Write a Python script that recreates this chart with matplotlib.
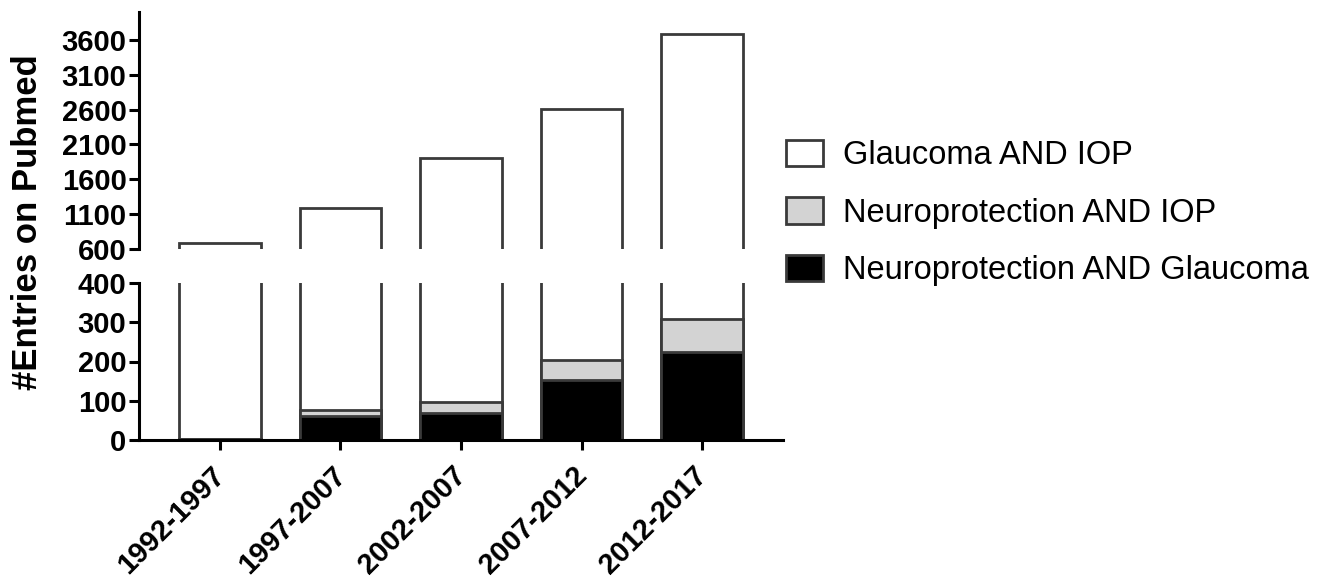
import matplotlib
matplotlib.use("Agg")
import matplotlib.pyplot as plt
import matplotlib.transforms as mtransforms
from matplotlib.patches import Patch
import numpy as np

categories = ['1992-1997', '1997-2007', '2002-2007', '2007-2012', '2012-2017']
glaucoma_iop = [680, 1190, 1905, 2610, 3685]
neuro_iop = [3, 76, 96, 205, 308]
neuro_glaucoma = [2, 60, 70, 153, 223]

series_names = ['Glaucoma AND IOP', 'Neuroprotection AND IOP', 'Neuroprotection AND Glaucoma']
series_colors = ['#ffffff', '#d3d3d3', '#000000']
edge = '#3a3a3a'

plt.rcParams['font.family'] = ['Liberation Sans', 'DejaVu Sans']

W, H = 1343, 584
fig = plt.figure(figsize=(W / 100, H / 100), dpi=100)

def fx(px):
    return px / W

def fy(py):
    return 1 - py / H

left = fx(139)
width = fx(783) - left
ax_top = fig.add_axes([left, fy(249), width, fy(12) - fy(249)])
ax_bot = fig.add_axes([left, fy(440), width, fy(283) - fy(440)])

x = np.arange(len(categories))
bw = 0.68
TICK_FS = 21
for ax in (ax_top, ax_bot):
    for vals, col in zip([glaucoma_iop, neuro_iop, neuro_glaucoma], series_colors):
        ax.bar(x, vals, width=bw, color=col, edgecolor=edge, linewidth=2.0, zorder=2)
    ax.set_xlim(-0.672, 4.672)
    for s in ('top', 'right'):
        ax.spines[s].set_visible(False)
    ax.spines['left'].set_linewidth(2.2)
    ax.spines['bottom'].set_linewidth(2.2)
    ax.tick_params(axis='y', length=7.5, width=2.2, labelsize=TICK_FS, pad=1.5)

ax_top.set_ylim(600, 4000)
ax_top.set_yticks([600, 1100, 1600, 2100, 2600, 3100, 3600])
ax_top.spines['bottom'].set_visible(False)
ax_top.tick_params(axis='x', bottom=False, labelbottom=False)

ax_bot.set_ylim(0, 400)
ax_bot.set_yticks([0, 100, 200, 300, 400])
ax_bot.set_xticks(x)
ax_bot.set_xticklabels(categories, rotation=45, ha='right', va='top',
                       rotation_mode='anchor', fontsize=TICK_FS, fontweight='bold')
ax_bot.tick_params(axis='x', length=7.5, width=2.2, pad=8)

for ax in (ax_top, ax_bot):
    for lab in ax.get_yticklabels():
        lab.set_fontweight('bold')

offset = mtransforms.ScaledTranslation(-9 / 100, 0, fig.dpi_scale_trans)
for lab in ax_bot.get_xticklabels():
    lab.set_transform(lab.get_transform() + offset)

fig.text(fx(28), fy(222), '#Entries on Pubmed', rotation=90, ha='center', va='center',
         fontsize=25, fontweight='bold')

handles = [Patch(facecolor=c, edgecolor=edge, linewidth=2.0) for c in series_colors]
fig.legend(handles, series_names, loc='center left', bbox_to_anchor=(fx(786), fy(213)),
           frameon=False, fontsize=23.5, handlelength=1.13, handleheight=0.86,
           handletextpad=0.62, labelspacing=0.80, borderpad=0, borderaxespad=0)

fig.savefig('out.png', dpi=100)
